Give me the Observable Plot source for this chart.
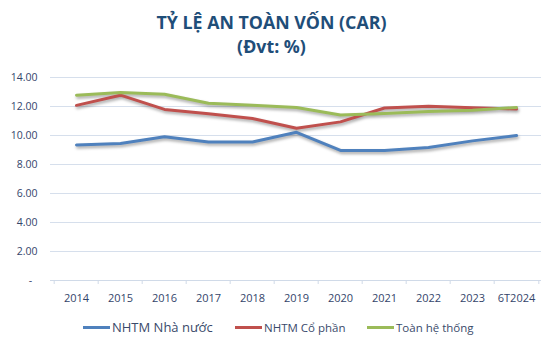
<!DOCTYPE html>
<html>
<head>
<meta charset="utf-8">
<script src="https://cdn.jsdelivr.net/npm/d3@7"></script>
<script src="https://cdn.jsdelivr.net/npm/@observablehq/plot@0.6"></script>
<style>
  html, body { margin: 0; padding: 0; background: #fff; }
  #page { position: relative; width: 543px; height: 364px; overflow: hidden; font-family: "Open Sans", sans-serif; }
  .title { position: absolute; left: 0; width: 543px; text-align: center; font-weight: 700; color: #1f4e79; font-size: 17.8px; line-height: 20px; }
  #chart { position: absolute; left: 0; top: 62px; }
  #legend { position: absolute; left: 0; top: 317px; width: 543px; height: 20px; }
  .item { position: absolute; top: 0; display: flex; align-items: center; height: 20px; color: #3a4a6b; }
  .swatch { width: 27px; height: 3px; margin-right: 2px; }
</style>
</head>
<body>
<div id="page">
  <div class="title" style="top:12px">TỶ LỆ AN TOÀN VỐN (CAR)</div>
  <div class="title" style="top:36px">(Đvt: %)</div>
  <div id="chart"></div>
  <div id="legend"></div>
</div>
<script>
const years = ["2014", "2015", "2016", "2017", "2018", "2019", "2020", "2021", "2022", "2023", "6T2024"];
const seriesNames = ["NHTM Nhà nước", "NHTM Cổ phần", "Toàn hệ thống"];
const nhtmNhaNuoc = [9.35, 9.45, 9.92, 9.55, 9.55, 10.22, 8.97, 8.97, 9.17, 9.63, 10.0];
const nhtmCoPhan = [12.08, 12.78, 11.8, 11.5, 11.17, 10.5, 10.94, 11.9, 12.02, 11.92, 11.82];
const toanHeThong = [12.78, 12.97, 12.85, 12.22, 12.08, 11.93, 11.42, 11.52, 11.66, 11.74, 11.93];
const yTicks = [0, 2, 4, 6, 8, 10, 12, 14];
const colors = ["#4f81bd", "#c0504d", "#9bbb59"];

const allSeries = [nhtmNhaNuoc, nhtmCoPhan, toanHeThong];
const data = [];
allSeries.forEach((vals, s) => vals.forEach((v, i) => data.push({year: years[i], value: v, series: seriesNames[s]})));

const W = 543, H = 250, mL = 50, mR = 2, mT = 15, mB = 32;
const step = (W - mL - mR) / years.length;

const chart = Plot.plot({
  width: W,
  height: H,
  marginLeft: mL,
  marginRight: mR,
  marginTop: mT,
  marginBottom: mB,
  style: {fontFamily: "Open Sans, sans-serif", color: "#34456a", background: "white"},
  x: {type: "point", domain: years, padding: 0.5, label: null},
  y: {domain: [0, 14], ticks: yTicks, label: null},
  color: {domain: seriesNames, range: colors},
  marks: [
    Plot.ruleY(yTicks.filter(d => d > 0), {y: d => d, stroke: "#d6dfec", strokeWidth: 1}),
    Plot.ruleY([0], {stroke: "#d0dae8", strokeWidth: 1}),
    Plot.ruleX(years, {x: d => d, dx: -step / 2, insetTop: H - mT - mB, insetBottom: -4, stroke: "#d0dae8"}),
    Plot.ruleX([years[years.length - 1]], {x: d => d, dx: step / 2, insetTop: H - mT - mB, insetBottom: -4, stroke: "#d0dae8"}),
    Plot.axisY({ticks: yTicks, tickSize: 0, tickPadding: 13, fontSize: 10.5,
      tickFormat: d => d === 0 ? "-\u00a0\u00a0" : d.toFixed(2)}),
    Plot.axisX({tickSize: 0, tickPadding: 14, fontSize: 11}),
    Plot.line(data, {x: "year", y: "value", z: "series", stroke: "series", strokeWidth: 3,
      strokeLinejoin: "round", strokeLinecap: "round"})
  ]
});
document.getElementById("chart").appendChild(chart);
chart.querySelectorAll("g[aria-label='line']").forEach(g => {
  g.style.filter = "drop-shadow(1px 2px 1.5px rgba(0,0,0,0.35))";
});

const legendPos = [{left: 83, size: 13}, {left: 235, size: 11.5}, {left: 367, size: 11.5}];
const legend = document.getElementById("legend");
seriesNames.forEach((name, i) => {
  const item = document.createElement("div");
  item.className = "item";
  item.style.left = legendPos[i].left + "px";
  item.style.fontSize = legendPos[i].size + "px";
  const sw = document.createElement("div");
  sw.className = "swatch";
  sw.style.background = colors[i];
  const lab = document.createElement("span");
  lab.textContent = name;
  item.appendChild(sw);
  item.appendChild(lab);
  legend.appendChild(item);
});
</script>
</body>
</html>
